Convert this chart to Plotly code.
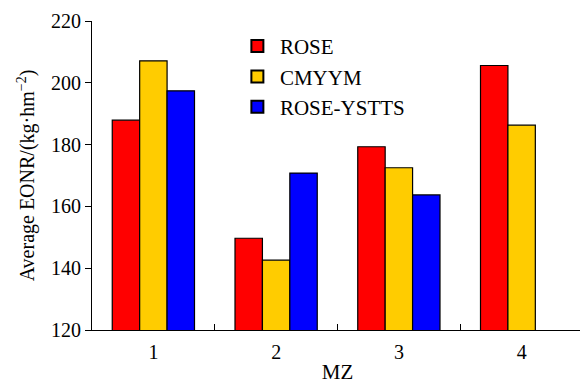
import plotly.graph_objects as go

categories = ["1", "2", "3", "4"]
rose = [187.9, 149.7, 179.3, 205.6]
cmyym = [207.1, 142.6, 172.5, 186.3]
rose_ystts = [197.4, 170.8, 163.7, None]
series_names = ["ROSE", "CMYYM", "ROSE-YSTTS"]
series_colors = ["#ff0000", "#ffcc00", "#0000ff"]
y_ticks = [120, 140, 160, 180, 200, 220]

font_family = "Liberation Serif, Times New Roman, serif"

fig = go.Figure()
for name, vals, col in zip(series_names, [rose, cmyym, rose_ystts], series_colors):
    fig.add_trace(go.Bar(
        x=categories, y=vals, name=name,
        marker=dict(color=col, line=dict(color="black", width=1.2)),
    ))

# page body has an 8px default margin, so the figure is sized to fit the window
fig.update_layout(
    width=580, height=376,
    margin=dict(l=84, r=5, t=13, b=54),
    paper_bgcolor="white", plot_bgcolor="white",
    font=dict(family=font_family, size=20, color="black"),
    barmode="group", bargap=0.33, bargroupgap=0,
    showlegend=True,
    legend=dict(x=0.291, y=0.984, xanchor="left", yanchor="top",
                bgcolor="rgba(0,0,0,0)", font=dict(size=21),
                itemsizing="constant", itemwidth=35),
    xaxis=dict(
        type="category", automargin=False,
        showline=True, linecolor="black", linewidth=1.2,
        ticks="inside", tickson="boundaries", ticklen=6, tickcolor="black",
        tickfont=dict(size=20), ticklabelstandoff=4,
        title=dict(text="MZ", font=dict(size=21), standoff=15),
        showgrid=False, zeroline=False,
    ),
    yaxis=dict(
        range=[120, 220], tickvals=y_ticks, automargin=False,
        showline=True, linecolor="black", linewidth=1.2,
        ticks="outside", ticklen=6, tickcolor="black",
        tickfont=dict(size=20),
        title=dict(text="Average EONR/(kg·hm<sup>−2</sup>)", font=dict(size=20), standoff=10),
        showgrid=False, zeroline=False,
    ),
)

fig.write_html("out.html")
